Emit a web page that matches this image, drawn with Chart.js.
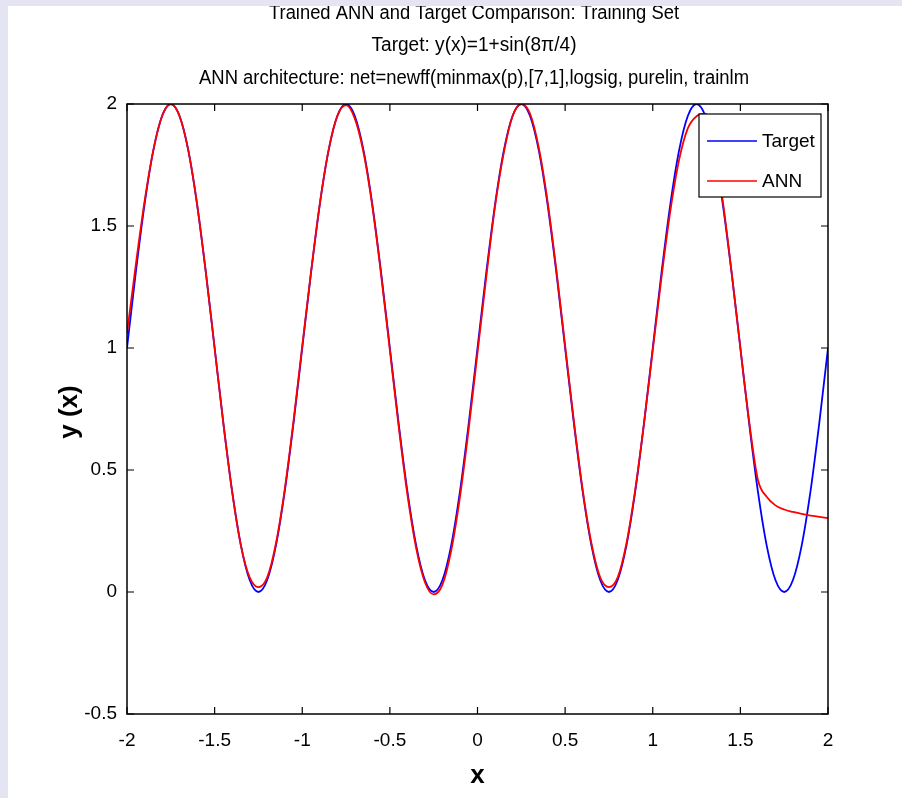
<!DOCTYPE html>
<html>
<head>
<meta charset="utf-8">
<script src="https://cdn.jsdelivr.net/npm/chart.js@4.4.0/dist/chart.umd.min.js"></script>
<style>
html, body { margin: 0; padding: 0; background: #e4e4f2; }
canvas { display: block; }
</style>
</head>
<body>
<canvas id="myChart" width="902" height="798"></canvas>
<script>
// x samples of the training set
const xValues = [
  -2, -1.95, -1.9, -1.85, -1.8, -1.75, -1.7, -1.65, -1.6, -1.55,
  -1.5, -1.45, -1.4, -1.35, -1.3, -1.25, -1.2, -1.15, -1.1, -1.05,
  -1, -0.95, -0.9, -0.85, -0.8, -0.75, -0.7, -0.65, -0.6, -0.55,
  -0.5, -0.45, -0.4, -0.35, -0.3, -0.25, -0.2, -0.15, -0.1, -0.05,
  0, 0.05, 0.1, 0.15, 0.2, 0.25, 0.3, 0.35, 0.4, 0.45,
  0.5, 0.55, 0.6, 0.65, 0.7, 0.75, 0.8, 0.85, 0.9, 0.95,
  1, 1.05, 1.1, 1.15, 1.2, 1.25, 1.3, 1.35, 1.4, 1.45,
  1.5, 1.55, 1.6, 1.65, 1.7, 1.75, 1.8, 1.85, 1.9, 1.95,
  2
];

// target curve
const targetValues = [
  1, 1.309, 1.588, 1.809, 1.951, 2, 1.951, 1.809, 1.588, 1.309,
  1, 0.691, 0.412, 0.191, 0.049, 0, 0.049, 0.191, 0.412, 0.691,
  1, 1.309, 1.588, 1.809, 1.951, 2, 1.951, 1.809, 1.588, 1.309,
  1, 0.691, 0.412, 0.191, 0.049, 0, 0.049, 0.191, 0.412, 0.691,
  1, 1.309, 1.588, 1.809, 1.951, 2, 1.951, 1.809, 1.588, 1.309,
  1, 0.691, 0.412, 0.191, 0.049, 0, 0.049, 0.191, 0.412, 0.691,
  1, 1.309, 1.588, 1.809, 1.951, 2, 1.951, 1.809, 1.588, 1.309,
  1, 0.691, 0.412, 0.191, 0.049, 0, 0.049, 0.191, 0.412, 0.691,
  1
];

// network output
const annValues = [
  1.06, 1.34, 1.6, 1.81, 1.95, 2.0, 1.95, 1.81, 1.59, 1.31,
  1.0, 0.69, 0.41, 0.19, 0.06, 0.02, 0.06, 0.2, 0.42, 0.7,
  1.01, 1.31, 1.59, 1.81, 1.95, 1.995, 1.94, 1.8, 1.58, 1.3,
  0.99, 0.68, 0.4, 0.18, 0.04, -0.01, 0.03, 0.17, 0.39, 0.67,
  0.98, 1.29, 1.58, 1.8, 1.95, 2.0, 1.96, 1.82, 1.6, 1.32,
  1.01, 0.7, 0.42, 0.2, 0.06, 0.02, 0.06, 0.2, 0.42, 0.69,
  0.99, 1.29, 1.56, 1.77, 1.9, 1.95, 1.96, 1.83, 1.6, 1.31,
  1.0, 0.7, 0.46, 0.39, 0.355, 0.338, 0.328, 0.32, 0.313, 0.308,
  0.303
];

const titleLines = [
  'Trained ANN and Target Comparison: Training Set',
  'Target: y(x)=1+sin(8\u03c0/4)',
  'ANN architecture: net=newff(minmax(p),[7,1],logsig, purelin, trainlm'
];
const xLabel = 'x';
const yLabel = 'y (x)';

const FONT = "'Liberation Sans Narrow', 'Liberation Sans', Arial, sans-serif";

function toPoints(ys) {
  return xValues.map((x, i) => ({ x: x, y: ys[i] }));
}

// draw text squeezed to a given width (matlab text is tall & narrow)
function fitText(ctx, text, cx, y, width) {
  const w = ctx.measureText(text).width;
  ctx.save();
  ctx.translate(cx, y);
  ctx.scale(width / w, 1);
  ctx.textAlign = 'center';
  ctx.fillText(text, 0, 0);
  ctx.restore();
}

const backgroundPlugin = {
  id: 'figureBg',
  beforeDraw(chart) {
    const ctx = chart.ctx;
    ctx.save();
    ctx.fillStyle = '#e4e4f2';
    ctx.fillRect(0, 0, chart.width, chart.height);
    ctx.fillStyle = '#ffffff';
    ctx.fillRect(8, 6, chart.width - 8, chart.height - 6);
    ctx.restore();
  }
};

const axesBoxPlugin = {
  id: 'axesBox',
  afterDatasetsDraw(chart) {
    const ctx = chart.ctx;
    const a = chart.chartArea;
    const xs = chart.scales.x, ys = chart.scales.y;
    ctx.save();
    ctx.strokeStyle = '#000';
    ctx.lineWidth = 1.5;
    ctx.strokeRect(a.left, a.top, a.right - a.left, a.bottom - a.top);
    ctx.lineWidth = 1.2;
    const len = 7;
    ctx.beginPath();
    xs.ticks.forEach(t => {
      const px = xs.getPixelForValue(t.value);
      ctx.moveTo(px, a.bottom); ctx.lineTo(px, a.bottom - len);
      ctx.moveTo(px, a.top); ctx.lineTo(px, a.top + len);
    });
    ys.ticks.forEach(t => {
      const py = ys.getPixelForValue(t.value);
      ctx.moveTo(a.left, py); ctx.lineTo(a.left + len, py);
      ctx.moveTo(a.right, py); ctx.lineTo(a.right - len, py);
    });
    ctx.stroke();

    // legend box
    const lx = 699, ly = 114, lw = 122, lh = 83;
    ctx.fillStyle = '#fff';
    ctx.fillRect(lx, ly, lw, lh);
    ctx.lineWidth = 1.2;
    ctx.strokeRect(lx, ly, lw, lh);
    const legendOrder = [chart.data.datasets[1], chart.data.datasets[0]];
    ctx.font = '19px ' + FONT;
    ctx.textBaseline = 'middle';
    legendOrder.forEach((ds, i) => {
      const yy = ly + 27 + i * 40;
      ctx.strokeStyle = ds.borderColor;
      ctx.lineWidth = 1.6;
      ctx.beginPath();
      ctx.moveTo(lx + 8, yy); ctx.lineTo(lx + 58, yy);
      ctx.stroke();
      ctx.fillStyle = '#000';
      ctx.textAlign = 'left';
      ctx.fillText(ds.label, lx + 63, yy + 1);
    });
    ctx.restore();
  },
  afterDraw(chart) {
    const ctx = chart.ctx;
    const a = chart.chartArea;
    ctx.save();
    ctx.fillStyle = '#000';
    ctx.textBaseline = 'alphabetic';
    ctx.font = '20px ' + FONT;
    const widths = [410, 205, 550];
    const baselines = [19, 51, 84];
    titleLines.forEach((t, i) => fitText(ctx, t, 474, baselines[i], widths[i]));

    ctx.font = 'bold 26px ' + FONT;
    ctx.textAlign = 'center';
    ctx.textBaseline = 'middle';
    ctx.fillText(xLabel, (a.left + a.right) / 2, 776);
    ctx.save();
    ctx.translate(70, (a.top + a.bottom) / 2 + 3);
    ctx.rotate(-Math.PI / 2);
    ctx.fillText(yLabel, 0, 0);
    ctx.restore();

    // figure edge cuts the first title line
    ctx.fillStyle = '#e4e4f2';
    ctx.fillRect(0, 0, chart.width, 6);
    ctx.restore();
  }
};

const tickFont = { family: FONT, size: 19 };
const tickText = v => String(v);

const chart = new Chart(document.getElementById('myChart').getContext('2d'), {
  type: 'line',
  data: {
    datasets: [
      {
        label: 'ANN',
        data: toPoints(annValues),
        borderColor: '#ff0000',
        borderWidth: 1.8,
        pointRadius: 0,
        fill: false,
        cubicInterpolationMode: 'monotone',
        order: 0
      },
      {
        label: 'Target',
        data: toPoints(targetValues),
        borderColor: '#0000ff',
        borderWidth: 1.8,
        pointRadius: 0,
        fill: false,
        cubicInterpolationMode: 'monotone',
        order: 1
      }
    ]
  },
  options: {
    responsive: false,
    animation: false,
    devicePixelRatio: 1,
    layout: { padding: { left: 0, top: 104, right: 74, bottom: 0 } },
    plugins: {
      legend: { display: false },
      tooltip: { enabled: false },
      title: { display: false }
    },
    scales: {
      x: {
        type: 'linear',
        min: -2,
        max: 2,
        grid: { display: false, drawTicks: false },
        border: { display: false },
        ticks: {
          stepSize: 0.5,
          color: '#000',
          padding: 15,
          maxRotation: 0,
          font: tickFont,
          callback: tickText
        },
        afterFit(scale) { scale.height = 84; }
      },
      y: {
        type: 'linear',
        min: -0.5,
        max: 2,
        grid: { display: false, drawTicks: false },
        border: { display: false },
        ticks: {
          stepSize: 0.5,
          color: '#000',
          padding: 10,
          font: tickFont,
          callback: tickText
        },
        afterFit(scale) { scale.width = 127; }
      }
    }
  },
  plugins: [backgroundPlugin, axesBoxPlugin]
});
</script>
</body>
</html>
